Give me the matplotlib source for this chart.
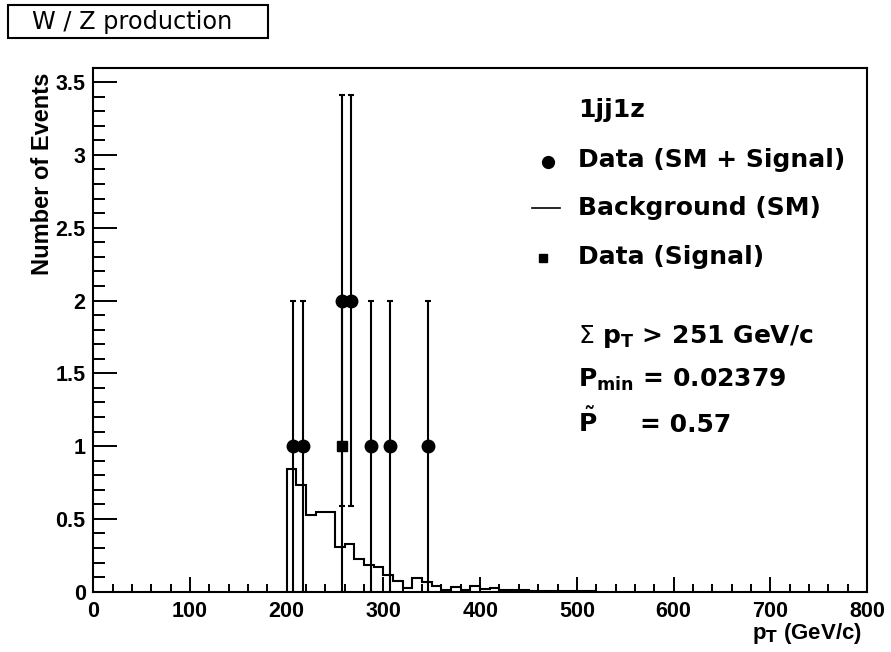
import numpy as np
import matplotlib
matplotlib.use("Agg")
import matplotlib.pyplot as plt
from matplotlib.ticker import MultipleLocator, FuncFormatter
from matplotlib.patches import Rectangle

# background (SM) histogram, 10 GeV bins
bin_edges = [200, 210, 220, 230, 240, 250, 260, 270, 280, 290, 300, 310, 320,
             330, 340, 350, 360, 370, 380, 390, 400, 410, 420, 430, 440, 450,
             460, 470, 480, 490, 500, 510, 520]
bkg_vals = [0.84, 0.73, 0.53, 0.55, 0.545, 0.31, 0.325, 0.225, 0.185, 0.17,
            0.115, 0.073, 0.025, 0.092, 0.065, 0.039, 0.011, 0.03, 0.011,
            0.039, 0.02, 0.025, 0.012, 0.01, 0.015, 0.008, 0.008, 0.005,
            0.006, 0.004, 0.003, 0.003]

# data points (SM + signal)
data_x = [206.8, 217.0, 257.0, 266.5, 287.0, 306.6, 346.0]
data_y = [1, 1, 2, 2, 1, 1, 1]

# data (signal)
sig_x = [257.0]
sig_y = [1]

legend_title = "1jj1z"
legend_labels = ["Data (SM + Signal)", "Background (SM)", "Data (Signal)"]
cut_text = r"$\Sigma$ $\mathbf{p_{T}}$ > 251 GeV/c"
pmin_text = r"P$_{\mathbf{min}}$ = 0.02379"
ptilde_val = "= 0.57"

bold_font = ["Liberation Sans", "DejaVu Sans"]
wide_font = ["DejaVu Sans"]

fig = plt.figure(figsize=(8.91, 6.52), dpi=100)
W, H = 891.0, 652.0
ax = fig.add_axes([93.3 / W, (H - 591.7) / H, 773.7 / W, 523.4 / H])

ax.stairs(bkg_vals, bin_edges, color="black", lw=1.5)
ax.errorbar(data_x, data_y, yerr=np.sqrt(data_y), fmt="o", color="black",
            ms=9, elinewidth=1.5, capsize=2.5, capthick=1.5, zorder=3)
ax.errorbar(sig_x, sig_y, yerr=np.sqrt(sig_y), fmt="s", color="black",
            ms=7, elinewidth=1.5, capsize=2.5, capthick=1.5, zorder=4)

ax.set_xlim(0, 800)
ax.set_ylim(0, 3.595)
ax.xaxis.set_major_locator(MultipleLocator(100))
ax.xaxis.set_minor_locator(MultipleLocator(20))
ax.yaxis.set_major_locator(MultipleLocator(0.5))
ax.yaxis.set_minor_locator(MultipleLocator(0.1))
ax.yaxis.set_major_formatter(FuncFormatter(lambda v, p: "%g" % v))
ax.tick_params(which="both", direction="in", top=False, right=False, width=1.4)
ax.tick_params(axis="x", which="major", length=11, pad=7)
ax.tick_params(axis="x", which="minor", length=5.5)
ax.tick_params(axis="y", which="major", length=17, pad=5.5)
ax.tick_params(axis="y", which="minor", length=8.5)
for lab in ax.get_xticklabels() + ax.get_yticklabels():
    lab.set_family(bold_font)
    lab.set_fontweight("bold")
    lab.set_fontsize(15.5)
for sp in ax.spines.values():
    sp.set_linewidth(1.5)

# axis titles (ROOT style, aligned at axis ends)
ax.text(1.0 - 5 / 773.7, -0.056, r"p$_{\mathbf{T}}$ (GeV/c)", transform=ax.transAxes,
        ha="right", va="top", fontsize=16, fontweight="bold", family=bold_font)
ax.text(-0.066, 1.0 - 4 / 523.4, "Number of Events", transform=ax.transAxes,
        rotation=90, ha="center", va="top", fontsize=17, fontweight="bold",
        family=bold_font)

# legend block
tx = 0.6264
kw = dict(transform=ax.transAxes, fontsize=18, fontweight="bold", family=wide_font,
          va="baseline", ha="left")
ax.text(tx, 0.9075, legend_title, **kw)
ax.text(tx, 0.8108, legend_labels[0], **kw)
ax.text(tx, 0.7197, legend_labels[1], **kw)
ax.text(tx, 0.626, legend_labels[2], **kw)
ax.text(tx, 0.4746, cut_text, **kw)
ax.text(tx, 0.3917, pmin_text, **kw)
ax.text(tx, 0.3057, r"$\tilde{\mathbf{P}}$", **kw)
ax.text(0.7065, 0.3057, ptilde_val, **kw)
ax.plot([0.5881], [0.8215], "o", color="black", ms=8.5, transform=ax.transAxes, clip_on=False)
ax.plot([0.5666, 0.6032], [0.7325, 0.7325], "-", color="black", lw=1.2,
        transform=ax.transAxes, clip_on=False)
ax.plot([0.5816], [0.637], "s", color="black", ms=5.5, transform=ax.transAxes, clip_on=False)

# title box
fig.patches.append(Rectangle((8 / W, 1 - 38 / H), 260 / W, 33 / H, transform=fig.transFigure,
                             fill=False, edgecolor="black", lw=1.5))
fig.text(132.5 / W, 1 - 21.5 / H, "W / Z production", ha="center", va="center",
         fontsize=17.3, family=wide_font)

fig.savefig("out.png", dpi=100)
